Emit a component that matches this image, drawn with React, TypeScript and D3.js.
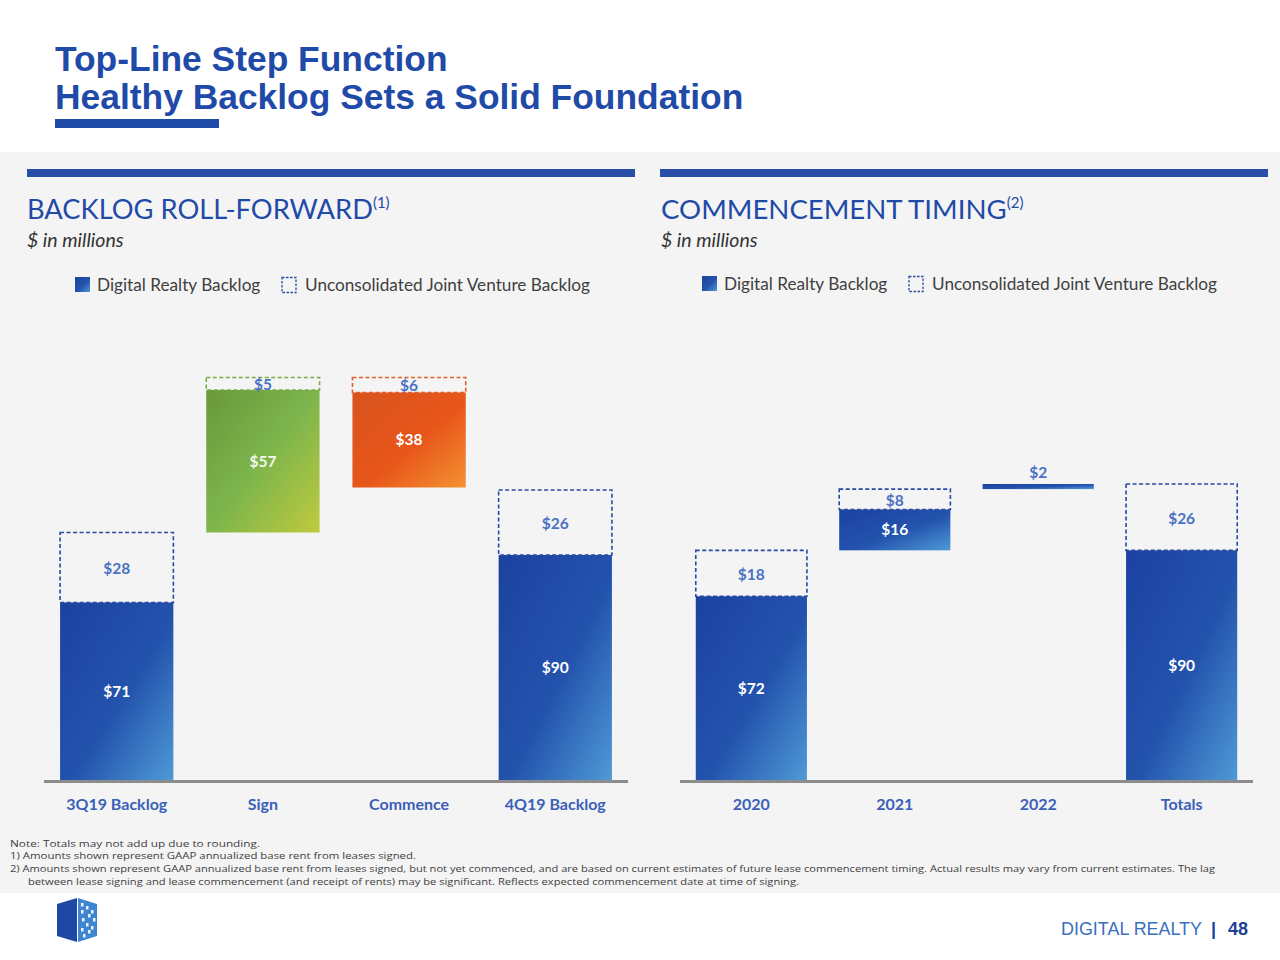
import React from "react";
import * as d3 from "d3";

// ---------- data ----------
const leftCategories = ["3Q19 Backlog", "Sign", "Commence", "4Q19 Backlog"];
const leftKinds = ["total", "increase", "decrease", "total"];
const leftDR = [71, 57, 38, 90];
const leftJV = [28, 5, 6, 26];

const rightCategories = ["2020", "2021", "2022", "Totals"];
const rightKinds = ["total", "step", "step", "total"];
const rightDR = [72, 16, 2, 90];
const rightJV = [18, 8, 0, 26];

const legendLabels = ["Digital Realty Backlog", "Unconsolidated Joint Venture Backlog"];

const footnotes = [
  "Note:  Totals may not add up due to rounding.",
  "1)  Amounts shown represent GAAP annualized base rent from leases signed.",
  "2)  Amounts shown represent GAAP annualized base rent from leases signed, but not yet commenced, and are based on current estimates of future lease commencement timing. Actual results may vary from current estimates.  The lag",
  "between lease signing and lease commencement (and receipt of rents) may be significant.  Reflects expected commencement date at time of signing.",
];

// ---------- helpers ----------
const BODY = "Lato, 'Open Sans', sans-serif";
const BLUE = "#1f4aa8";

type Seg = { cat: string; kind: string; base: number; dr: number; jv: number };

function waterfall(cats: string[], kinds: string[], dr: number[], jv: number[]): Seg[] {
  let running = 0;
  return cats.map((c, i) => {
    const total = dr[i] + jv[i];
    let base = 0;
    if (kinds[i] === "total") {
      base = 0;
      running = total;
    } else if (kinds[i] === "increase" || kinds[i] === "step") {
      base = running;
      running += total;
    } else {
      running -= total;
      base = running;
    }
    return { cat: c, kind: kinds[i], base, dr: dr[i], jv: jv[i] };
  });
}

const fillFor = (k: string) =>
  k === "increase" ? "url(#gGreen)" : k === "decrease" ? "url(#gOrange)" : "url(#gBlue)";
const dashFor = (k: string) =>
  k === "increase" ? "#7aab45" : k === "decrease" ? "#e0602a" : "#2a4aa0";

function Chart({
  segs,
  x0,
  x1,
  y,
}: {
  segs: Seg[];
  x0: number;
  x1: number;
  y: d3.ScaleLinear<number, number>;
}) {
  const x = d3
    .scaleBand<string>()
    .domain(segs.map((s) => s.cat))
    .range([x0, x1])
    .paddingInner(0.225)
    .paddingOuter(0.11);
  const bw = x.bandwidth();
  const baseY = y(0);
  return (
    <g>
      {segs.map((s) => {
        const bx = x(s.cat)!;
        const drTop = y(s.base + s.dr);
        const drBot = y(s.base);
        const jvTop = y(s.base + s.dr + s.jv);
        const cx = bx + bw / 2;
        const thin = drBot - drTop < 12;
        return (
          <g key={s.cat}>
            <rect x={bx} y={drTop} width={bw} height={drBot - drTop} fill={fillFor(s.kind)} />
            {s.jv > 0 && (
              <rect
                x={bx}
                y={jvTop}
                width={bw}
                height={drTop - jvTop}
                fill="none"
                stroke={dashFor(s.kind)}
                strokeWidth={1.6}
                strokeDasharray="4 2.5"
              />
            )}
            <text
              x={cx}
              y={thin ? drTop - 11 : (drTop + drBot) / 2}
              dy="0.35em"
              textAnchor="middle"
              fontFamily={BODY}
              fontWeight={700}
              fontSize={15.5}
              fill={thin ? "#4a72c4" : s.kind === "increase" ? "#f4f7ec" : "#ffffff"}
            >
              {"$" + s.dr}
            </text>
            {s.jv > 0 && (
              <text
                x={cx}
                y={(jvTop + drTop) / 2 + 1}
                dy="0.35em"
                textAnchor="middle"
                fontFamily={BODY}
                fontWeight={700}
                fontSize={15.5}
                fill="#4a72c4"
              >
                {"$" + s.jv}
              </text>
            )}
            <text
              x={cx}
              y={baseY + 29.5}
              textAnchor="middle"
              fontFamily={BODY}
              fontWeight={700}
              fontSize={16}
              fill="#3a60b8"
            >
              {s.cat}
            </text>
          </g>
        );
      })}
      <line x1={x0} x2={x1} y1={baseY + 1.5} y2={baseY + 1.5} stroke="#8c8c8c" strokeWidth={3} />
    </g>
  );
}

function Legend({ x, y, gap }: { x: number; y: number; gap: number }) {
  return (
    <g fontFamily={BODY} fontSize={17.2} fill="#404040">
      <rect x={x} y={y - 8} width={15} height={15} fill="url(#gBlue)" />
      <text x={x + 22} y={y} dy="0.35em">
        {legendLabels[0]}
      </text>
      <rect
        x={x + gap}
        y={y - 7.5}
        width={14}
        height={15}
        fill="none"
        stroke="#2a4aa0"
        strokeWidth={1.3}
        strokeDasharray="2.5 1.5"
      />
      <text x={x + gap + 23} y={y} dy="0.35em">
        {legendLabels[1]}
      </text>
    </g>
  );
}

export default function App() {
  const leftSegs = waterfall(leftCategories, leftKinds, leftDR, leftJV);
  const rightSegs = waterfall(rightCategories, rightKinds, rightDR, rightJV);
  const yLeft = d3.scaleLinear().domain([0, 160]).range([780, 380]);
  const yRight = d3.scaleLinear().domain([0, 116]).range([780, 484]);

  return (
    <div style={{ position: "absolute", left: 0, top: 0 }}>
      <svg width={1280} height={960} style={{ display: "block" }}>
        <defs>
          <linearGradient id="gBlue" x1="0" y1="0" x2="1" y2="1">
            <stop offset="0" stopColor="#1c42a0" />
            <stop offset="0.55" stopColor="#2353ad" />
            <stop offset="1" stopColor="#4f9ad6" />
          </linearGradient>
          <linearGradient id="gGreen" x1="0" y1="0" x2="1" y2="1">
            <stop offset="0" stopColor="#68983a" />
            <stop offset="0.5" stopColor="#7db54c" />
            <stop offset="1" stopColor="#bfca3e" />
          </linearGradient>
          <linearGradient id="gOrange" x1="0" y1="0" x2="1" y2="1">
            <stop offset="0" stopColor="#d8531e" />
            <stop offset="0.55" stopColor="#e8561a" />
            <stop offset="1" stopColor="#f39232" />
          </linearGradient>
        </defs>
        <rect x={0} y={0} width={1280} height={960} fill="#ffffff" />
        <rect x={0} y={152} width={1280} height={741} fill="#f4f4f4" />

        {/* title */}
        <g fontFamily="'Liberation Sans', Arial, sans-serif" fontWeight={700} fontSize={35.4} fill={BLUE}>
          <text x={55} y={71}>Top-Line Step Function</text>
          <text x={55} y={109}>Healthy Backlog Sets a Solid Foundation</text>
        </g>
        <rect x={55} y={119} width={164} height={9} fill={BLUE} />

        {/* section bars */}
        <rect x={27} y={169} width={608} height={8} fill="#2a4fa8" />
        <rect x={660} y={169} width={608} height={8} fill="#2a4fa8" />

        {/* section titles */}
        <g fontFamily={BODY} fill={BLUE}>
          <text x={27} y={219} fontSize={27.3}>
            BACKLOG ROLL-FORWARD
            <tspan fontSize={15} dy={-11}>(1)</tspan>
          </text>
          <text x={661} y={219} fontSize={27.6}>
            COMMENCEMENT TIMING
            <tspan fontSize={15} dy={-11}>(2)</tspan>
          </text>
        </g>
        <g fontFamily={BODY} fontStyle="italic" fontSize={19.5} fill="#333333">
          <text x={27} y={247}>$ in millions</text>
          <text x={661} y={247}>$ in millions</text>
        </g>

        <Legend x={75} y={285} gap={207} />
        <Legend x={702} y={284} gap={207} />

        <Chart segs={leftSegs} x0={44} x1={628} y={yLeft} />
        <Chart segs={rightSegs} x0={680} x1={1253} y={yRight} />

        {/* footnotes */}
        <g fontFamily="'Liberation Sans Narrow', 'Open Sans', sans-serif" fontSize={9.5} fill="#404040">
          <text x={10} y={847} textLength={250} lengthAdjust="spacingAndGlyphs">{footnotes[0]}</text>
          <text x={10} y={859} textLength={406} lengthAdjust="spacingAndGlyphs">{footnotes[1]}</text>
          <text x={10} y={872} textLength={1205} lengthAdjust="spacingAndGlyphs">{footnotes[2]}</text>
          <text x={28} y={885} textLength={771} lengthAdjust="spacingAndGlyphs">{footnotes[3]}</text>
        </g>

        {/* logo */}
        <g>
          <polygon points="57,904 77,898 77,942 57,936" fill="#1f48a6" />
          <polygon points="78,898 97,904 97,936 78,942" fill="#3f86d2" />
          {[
            [81, 903], [86, 906], [91, 910], [81, 910], [88, 914], [93, 918],
            [82, 918], [86, 923], [91, 926], [81, 928], [88, 930], [83, 934],
          ].map(([px, py], i) => (
            <rect key={i} x={px} y={py} width={2.5} height={3.5} fill="#ffffff" opacity={0.9} />
          ))}
        </g>

        <g fontFamily="'Liberation Sans', Arial, sans-serif" fontSize={18}>
          <text x={1061} y={935} fill="#3a6fc0" textLength={141} lengthAdjust="spacingAndGlyphs">
            DIGITAL REALTY
          </text>
          <text x={1211} y={935} fill="#1f3f99" fontWeight={700}>|</text>
          <text x={1228} y={935} fill="#1f3f99" fontWeight={700}>48</text>
        </g>
      </svg>
    </div>
  );
}
